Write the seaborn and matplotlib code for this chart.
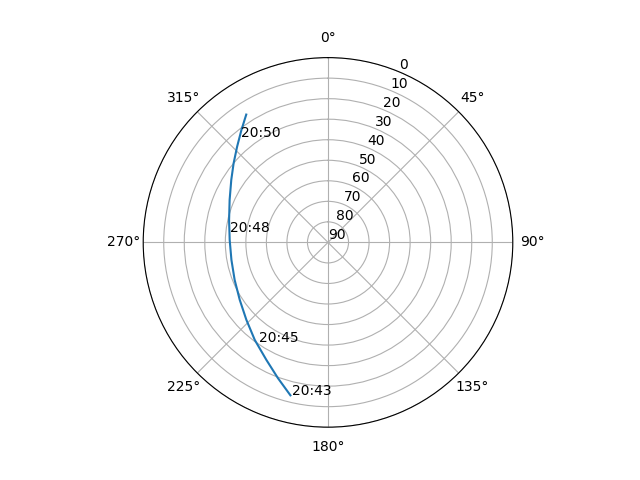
import numpy as np
import pandas as pd
import matplotlib
matplotlib.use("Agg")
import matplotlib.pyplot as plt
import seaborn as sns

# satellite pass track: azimuth (deg) and elevation (deg)
azimuth = [193.8, 200.2, 207.7, 216.9, 226.5, 236.9, 248.1, 259.7,
           271.5, 282.8, 293.4, 302.9, 310.0, 316.5, 322.4, 327.4]
elevation = [13.3, 19.5, 25.4, 30.6, 35.2, 38.7, 41.0, 42.2,
             42.1, 40.6, 37.8, 33.9, 30.0, 25.7, 20.9, 16.1]

# time labels along the track
label_text = ["20:43", "20:45", "20:48", "20:50"]
label_az = [193.1, 214.9, 276.1, 320.4]
label_el = [13.6, 30.9, 42.2, 23.3]

track = pd.DataFrame({"theta": np.radians(azimuth), "el": elevation})

fig = plt.figure(figsize=(6.4, 4.8), dpi=100)
ax = fig.add_subplot(111, projection="polar")
ax.set_theta_zero_location("N")
ax.set_theta_direction(-1)

sns.lineplot(data=track, x="theta", y="el", ax=ax, sort=False)

for txt, az, el in zip(label_text, label_az, label_el):
    ax.text(np.radians(az), el, txt)

ax.set_ylim(90, 0)
ax.set_yticks(range(0, 91, 10))
ax.set_xlabel("")
ax.set_ylabel("")

plt.savefig("out.png")
